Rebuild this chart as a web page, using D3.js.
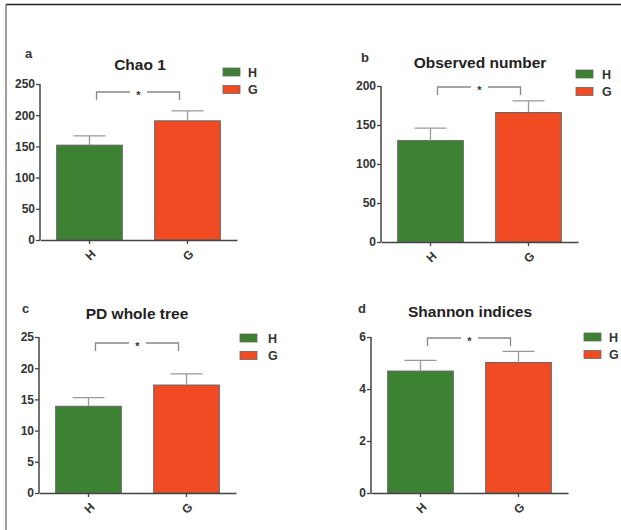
<!DOCTYPE html>
<html><head><meta charset="utf-8">
<script src="https://cdn.jsdelivr.net/npm/d3@7"></script>
<style>
html,body{margin:0;padding:0;background:#fff;}
svg text{font-family:"Liberation Sans",Arial,sans-serif;font-weight:bold;}
</style></head>
<body>
<svg id="chart" width="621" height="530"></svg>
<script>
// ---- data ----
const groups = ["H", "G"];
const panelLetters = ["a", "b", "c", "d"];
const panelTitles = ["Chao 1", "Observed number", "PD whole tree", "Shannon indices"];
const chaoMeans = [152, 191];
const chaoErrors = [15, 16];
const observedMeans = [130, 166];
const observedErrors = [16, 15];
const pdMeans = [13.9, 17.3];
const pdErrors = [1.4, 1.8];
const shannonMeans = [4.69, 5.02];
const shannonErrors = [0.41, 0.43];
const yMaxes = [250, 200, 25, 6];
const yTickValues = [
  [0, 50, 100, 150, 200, 250],
  [0, 50, 100, 150, 200],
  [0, 5, 10, 15, 20, 25],
  [0, 2, 4, 6]
];
const significance = ["*", "*", "*", "*"];
const meansList = [chaoMeans, observedMeans, pdMeans, shannonMeans];
const errorsList = [chaoErrors, observedErrors, pdErrors, shannonErrors];

// ---- layout / style ----
const colors = {H: "#3c8232", G: "#f04b22"};
const layout = [
  {ax: 40,  y0: 240, titleX: 140, titleY: 70,  letX: 25,  letY: 58,  brY: 92,  legX: 223, legY: 68,  legTx: 248},
  {ax: 381, y0: 242, titleX: 480, titleY: 68,  letX: 361, letY: 62,  brY: 87,  legX: 576, legY: 70,  legTx: 602},
  {ax: 39,  y0: 493, titleX: 137, titleY: 319, letX: 22,  letY: 313, brY: 343, legX: 240, legY: 334, legTx: 268},
  {ax: 371, y0: 493, titleX: 470, titleY: 317, letX: 358, letY: 313, brY: 338, legX: 584, legY: 333, legTx: 609}
];
const plotW = 197, plotH = 156;

const svg = d3.select("#chart");

// frame
svg.append("line").attr("x1", 6).attr("x2", 621).attr("y1", 4.5).attr("y2", 4.5)
  .attr("stroke", "#222").attr("stroke-width", 1.6);
svg.append("line").attr("x1", 6).attr("x2", 6).attr("y1", 4).attr("y2", 530)
  .attr("stroke", "#777").attr("stroke-width", 1.4);

layout.forEach((L, i) => {
  const g = svg.append("g");
  const means = meansList[i], errs = errorsList[i];
  const x = d3.scaleBand().domain(groups).range([L.ax, L.ax + plotW])
    .paddingInner(0.33).paddingOuter(0.17);
  const y = d3.scaleLinear().domain([0, yMaxes[i]]).range([L.y0, L.y0 - plotH]);

  // bars
  g.selectAll("rect.bar").data(groups).join("rect")
    .attr("class", "bar")
    .attr("x", d => x(d)).attr("width", x.bandwidth())
    .attr("y", (d, j) => y(means[j])).attr("height", (d, j) => y(0) - y(means[j]))
    .attr("fill", d => colors[d]).attr("stroke", "#666").attr("stroke-width", 1);

  // error bars (upper only)
  groups.forEach((d, j) => {
    const cx = x(d) + x.bandwidth() / 2;
    const ytop = y(means[j] + errs[j]);
    g.append("line").attr("x1", cx).attr("x2", cx).attr("y1", y(means[j])).attr("y2", ytop)
      .attr("stroke", "#999").attr("stroke-width", 1.3);
    g.append("line").attr("x1", cx - 16).attr("x2", cx + 16).attr("y1", ytop).attr("y2", ytop)
      .attr("stroke", "#999").attr("stroke-width", 1.3);
  });

  // y axis
  const yAxis = g.append("g").attr("transform", `translate(${L.ax},0)`)
    .call(d3.axisLeft(y).tickValues(yTickValues[i]).tickSize(4).tickPadding(1).tickFormat(d3.format("d")));
  yAxis.select(".domain").attr("stroke", "#444").attr("stroke-width", 1.5).attr("d", `M0,${L.y0}V${L.y0 - plotH}`);
  yAxis.selectAll(".tick line").attr("stroke", "#444").attr("stroke-width", 1.3);
  yAxis.selectAll(".tick text").attr("fill", "#333").style("font-size", "12px");

  // x axis
  const xAxis = g.append("g").attr("transform", `translate(0,${L.y0})`)
    .call(d3.axisBottom(x).tickSize(4).tickSizeOuter(0));
  xAxis.select(".domain").attr("stroke", "#444").attr("stroke-width", 1.5);
  xAxis.selectAll(".tick line").attr("stroke", "#444").attr("stroke-width", 1.3);
  xAxis.selectAll(".tick text").attr("fill", "#333").style("font-size", "12px")
    .attr("text-anchor", "end").attr("dy", "0.35em")
    .attr("transform", "translate(4,12) rotate(-45)").attr("y", 0).attr("x", 0);

  // significance bracket
  const xH = x("H") + x.bandwidth() / 2 + 7;
  const xG = x("G") + x.bandwidth() / 2 - 8;
  const mid = (xH + xG) / 2;
  g.append("path")
    .attr("d", `M${xH},${L.brY + 8}V${L.brY}H${mid - 8}M${mid + 9},${L.brY}H${xG}V${L.brY + 8}`)
    .attr("fill", "none").attr("stroke", "#888").attr("stroke-width", 1.3);
  g.append("text").attr("x", mid + 0.5).attr("y", L.brY + 7).attr("text-anchor", "middle")
    .attr("fill", "#333").style("font-size", "11px").text(significance[i]);

  // title & letter
  g.append("text").attr("x", L.titleX).attr("y", L.titleY).attr("text-anchor", "middle")
    .attr("fill", "#222").style("font-size", "15.5px").text(panelTitles[i]);
  g.append("text").attr("x", L.letX).attr("y", L.letY)
    .attr("fill", "#333").style("font-size", "13px").text(panelLetters[i]);

  // legend
  groups.forEach((d, j) => {
    const ly = L.legY + j * 17.5;
    g.append("rect").attr("x", L.legX).attr("y", ly).attr("width", 17).attr("height", 8)
      .attr("fill", colors[d]).attr("stroke", "#666").attr("stroke-width", 0.8);
    g.append("text").attr("x", L.legTx).attr("y", ly + 8.5)
      .attr("fill", "#333").style("font-size", "12.5px").text(d);
  });
});
</script>
</body></html>
